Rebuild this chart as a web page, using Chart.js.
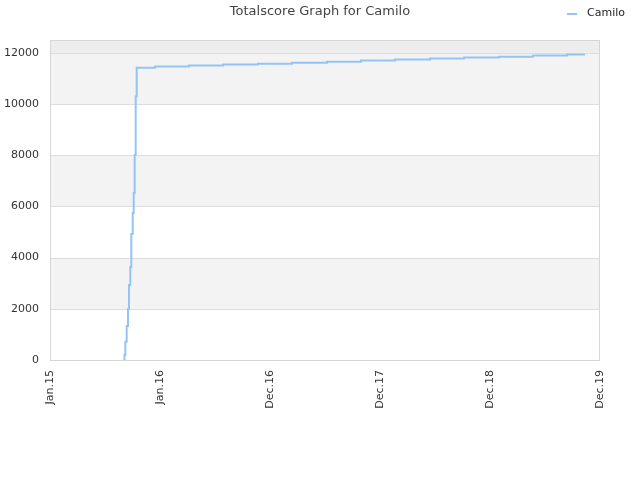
<!DOCTYPE html>
<html>
<head>
<meta charset="utf-8">
<script src="https://cdn.jsdelivr.net/npm/chart.js@4/dist/chart.umd.min.js"></script>
<style>
  html, body { margin: 0; padding: 0; background: #fff; }
  #wrap { width: 640px; height: 480px; }
</style>
</head>
<body>
<div id="wrap"><canvas id="chart" width="640" height="480"></canvas></div>
<script>
// Totalscore graph for Camilo
const chartTitle = 'Totalscore Graph for Camilo';
const seriesName = 'Camilo';
const xTickLabels = ['Jan.15', 'Jan.16', 'Dec.16', 'Dec.17', 'Dec.18', 'Dec.19'];
const yTickValues = [0, 2000, 4000, 6000, 8000, 10000, 12000];

// x is measured in tick intervals (0 = Jan.15 ... 5 = Dec.19)
const scoreX = [0.666, 0.677, 0.685, 0.697, 0.709, 0.718, 0.730, 0.739, 0.752, 0.761, 0.770, 0.779, 0.788,
                0.955, 1.264, 1.573, 1.891, 2.200, 2.518, 2.827, 3.136, 3.455, 3.764, 4.082, 4.391, 4.700, 4.864];
const scoreY = [0, 195, 715, 1330, 1995, 2930, 3635, 4925, 5745, 6525, 8010, 10290, 11420,
                11460, 11500, 11540, 11575, 11615, 11655, 11695, 11735, 11775, 11815, 11850, 11890, 11930, 11930];

const lineColor = '#92c5f5';
const fontFamily = '"DejaVu Sans", sans-serif';

// alternating bands behind the plot, plus the frame
const bandPlugin = {
    id: 'bands',
    beforeDatasetsDraw(chart) {
        const { ctx, chartArea: a, scales: { y } } = chart;
        ctx.save();
        const ticks = y.ticks.map(t => t.value);
        for (let i = 0; i < ticks.length; i++) {
            const lo = ticks[i];
            const hi = i + 1 < ticks.length ? ticks[i + 1] : y.max;
            const top = y.getPixelForValue(hi);
            const bot = y.getPixelForValue(lo);
            if (i === ticks.length - 1) ctx.fillStyle = '#ededed';
            else ctx.fillStyle = i % 2 === 1 ? '#f3f3f3' : '#ffffff';
            ctx.fillRect(a.left, top, a.right - a.left, bot - top);
        }
        ctx.strokeStyle = '#dddddd';
        ctx.lineWidth = 1;
        ticks.forEach(v => {
            const py = Math.round(y.getPixelForValue(v)) + 0.5;
            ctx.beginPath();
            ctx.moveTo(a.left, py);
            ctx.lineTo(a.right, py);
            ctx.stroke();
        });
        ctx.strokeStyle = '#d6d6d6';
        ctx.strokeRect(a.left + 0.5, a.top + 0.5, a.right - a.left - 1, a.bottom - a.top);
        ctx.restore();
    },
    afterDraw(chart) {
        const { ctx } = chart;
        ctx.save();
        ctx.font = '13px ' + fontFamily;
        ctx.fillStyle = '#444';
        ctx.textAlign = 'center';
        ctx.textBaseline = 'middle';
        ctx.fillText(chartTitle, 320, 12);
        // legend
        ctx.strokeStyle = lineColor;
        ctx.lineWidth = 2;
        ctx.beginPath();
        ctx.moveTo(567, 14);
        ctx.lineTo(577, 14);
        ctx.stroke();
        ctx.font = '11px ' + fontFamily;
        ctx.fillStyle = '#222';
        ctx.textAlign = 'left';
        ctx.fillText(chart.data.datasets[0].label, 587, 13);
        ctx.restore();
    }
};

new Chart(document.getElementById('chart').getContext('2d'), {
    type: 'line',
    data: {
        datasets: [{
            label: seriesName,
            data: scoreX.map((x, i) => ({ x: x, y: scoreY[i] })),
            borderColor: lineColor,
            backgroundColor: lineColor,
            borderWidth: 2,
            pointRadius: 0,
            stepped: true,
            fill: false
        }]
    },
    options: {
        responsive: false,
        animation: false,
        layout: { padding: { top: 40, right: 40, left: 0, bottom: 0 } },
        plugins: {
            legend: { display: false },
            title: { display: false },
            tooltip: { enabled: false }
        },
        scales: {
            x: {
                type: 'linear',
                min: 0,
                max: 5,
                afterFit: s => { s.height = 120; },
                afterBuildTicks: s => { s.ticks = xTickLabels.map((_, i) => ({ value: i })); },
                grid: { display: false, drawTicks: false },
                border: { display: false },
                ticks: {
                    minRotation: 90,
                    maxRotation: 90,
                    autoSkip: false,
                    padding: 10,
                    color: '#333',
                    font: { family: fontFamily, size: 11 },
                    callback: v => xTickLabels[v]
                }
            },
            y: {
                min: 0,
                max: 12500,
                afterFit: s => { s.width = 50; },
                afterBuildTicks: s => { s.ticks = yTickValues.map(v => ({ value: v })); },
                grid: { display: false, drawTicks: false },
                border: { display: false },
                ticks: {
                    autoSkip: false,
                    padding: 11,
                    color: '#333',
                    font: { family: fontFamily, size: 11 },
                    callback: v => String(v)
                }
            }
        }
    },
    plugins: [bandPlugin]
});
</script>
</body>
</html>
